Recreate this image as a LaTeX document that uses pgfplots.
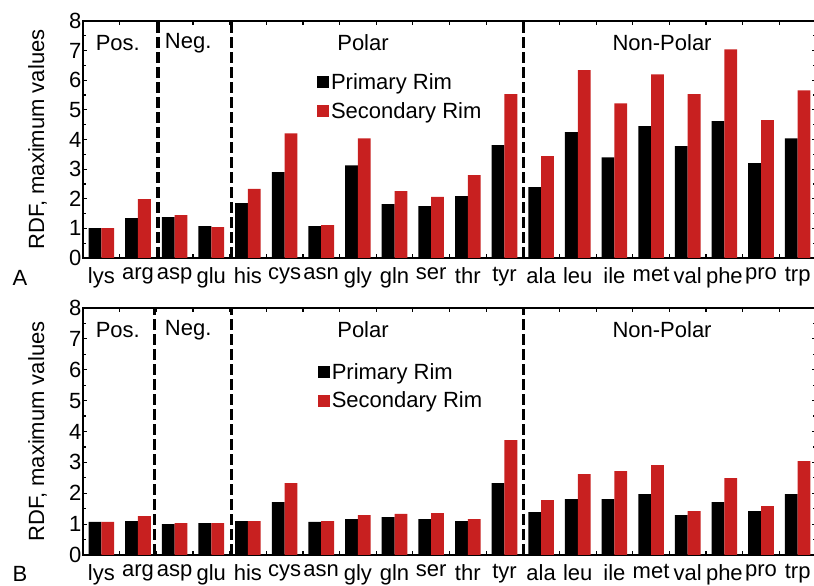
\documentclass[border=0pt]{standalone}
\usepackage{pgfplots}
\pgfplotsset{compat=1.18}
\usepackage{fontspec}
\setmainfont{Liberation Sans}
\definecolor{rimred}{RGB}{200,32,32}
\newcommand{\fs}{\fontsize{22}{26}\selectfont}

\tikzset{dash sep/.style={line width=3.3pt, dash pattern=on 11pt off 4pt}}

\pgfplotsset{
  panel/.style={
    scale only axis,
    width=733pt,
    anchor=south west,
    xmin=0.5, xmax=20.5,
    ymin=0, ymax=8,
    ybar=0pt,
    bar width=12.8pt,
    axis line style={line width=1.5pt},
    tick align=inside,
    tick style={line width=1.2pt, black},
    major tick length=4pt,
    minor tick length=2.7pt,
    xtick={1.5,2.5,...,19.5},
    xticklabels={},
    extra x ticks={1,...,20},
    extra x tick labels={lys,arg,asp,glu,his,cys,asn,gly,gln,ser,thr,tyr,ala,leu,ile,met,val,phe,pro,trp},
    extra x tick style={major tick length=0pt},
    xticklabel style={yshift=-6pt},
    ytick={0,...,8},
    minor y tick num=1,
    yticklabel style={xshift=2pt},
    tick label style={font=\fs},
    /pgf/number format/assume math mode=true,
    label style={font=\fs},
    ylabel={RDF, maximum values},
    ylabel style={at={(axis description cs:-0.062,0.5)}, anchor=center},
    legend style={draw=none, fill=none, font=\fs, anchor=north west, inner sep=0pt, row sep=7pt},
    legend cell align=left,
    legend image code/.code={\fill[#1] (0pt,-6pt) rectangle (12pt,6pt);},
    clip=false,
  },
}

\begin{document}
\begin{tikzpicture}
\path[use as bounding box] (0pt,0pt) rectangle (814pt,586pt);

% panel A
\begin{axis}[panel, at={(83pt,328pt)}, height=237pt,
  legend style={at={(axis description cs:0.319,0.787)}}]
\addplot[fill=black, draw=none] coordinates {
 (1,1.01) (2,1.35) (3,1.38) (4,1.08) (5,1.85) (6,2.90) (7,1.08) (8,3.13) (9,1.82) (10,1.75)
 (11,2.09) (12,3.81) (13,2.39) (14,4.25) (15,3.40) (16,4.45) (17,3.78) (18,4.62) (19,3.20) (20,4.04)};
\addlegendentry{Primary Rim}
\addplot[fill=rimred, draw=none] coordinates {
 (1,1.01) (2,1.99) (3,1.45) (4,1.04) (5,2.33) (6,4.21) (7,1.11) (8,4.04) (9,2.26) (10,2.06)
 (11,2.80) (12,5.53) (13,3.44) (14,6.34) (15,5.22) (16,6.20) (17,5.53) (18,7.04) (19,4.65) (20,5.66)};
\addlegendentry{Secondary Rim}
\draw[dash sep] (axis cs:2.55,0) -- (axis cs:2.55,8);
\draw[dash sep] (axis cs:4.55,0) -- (axis cs:4.55,8);
\draw[dash sep] (axis cs:12.52,0) -- (axis cs:12.52,8);
\node[font=\fs] at (axis cs:1.45,7.26) {Pos.};
\node[font=\fs] at (axis cs:3.37,7.26) {Neg.};
\node[font=\fs] at (axis cs:8.14,7.26) {Polar};
\node[font=\fs] at (axis cs:16.3,7.26) {Non-Polar};
\end{axis}

% panel B
\begin{axis}[panel, at={(83pt,31pt)}, height=247pt,
  legend style={at={(axis description cs:0.320,0.784)}}]
\addplot[fill=black, draw=none] coordinates {
 (1,1.07) (2,1.10) (3,1.00) (4,1.03) (5,1.10) (6,1.71) (7,1.07) (8,1.16) (9,1.23) (10,1.16)
 (11,1.10) (12,2.33) (13,1.39) (14,1.81) (15,1.81) (16,1.97) (17,1.29) (18,1.71) (19,1.42) (20,1.97)};
\addlegendentry{Primary Rim}
\addplot[fill=rimred, draw=none] coordinates {
 (1,1.07) (2,1.26) (3,1.03) (4,1.03) (5,1.10) (6,2.33) (7,1.10) (8,1.29) (9,1.33) (10,1.36)
 (11,1.16) (12,3.72) (13,1.78) (14,2.62) (15,2.72) (16,2.91) (17,1.42) (18,2.49) (19,1.58) (20,3.04)};
\addlegendentry{Secondary Rim}
\draw[dash sep] (axis cs:2.45,0) -- (axis cs:2.45,8);
\draw[dash sep] (axis cs:4.55,0) -- (axis cs:4.55,8);
\draw[dash sep] (axis cs:12.52,0) -- (axis cs:12.52,8);
\node[font=\fs] at (axis cs:1.45,7.29) {Pos.};
\node[font=\fs] at (axis cs:3.37,7.29) {Neg.};
\node[font=\fs] at (axis cs:8.14,7.29) {Polar};
\node[font=\fs] at (axis cs:16.3,7.29) {Non-Polar};
\end{axis}

\node[font=\fs] at (20pt,308pt) {A};
\node[font=\fs] at (20pt,12pt) {B};
\end{tikzpicture}
\end{document}
